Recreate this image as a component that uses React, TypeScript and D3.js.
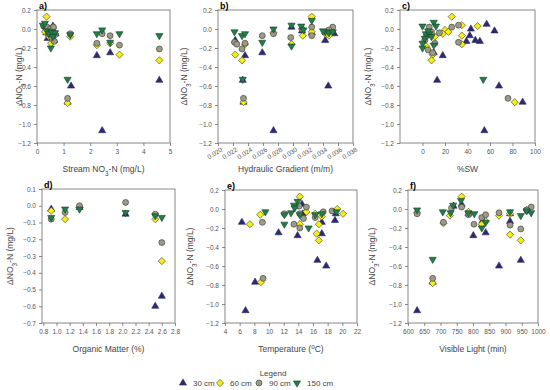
import * as d3 from "d3"
import { useRef, useEffect } from "react"

// depth series labels
const depths = ["30 cm", "60 cm", "90 cm", "150 cm"]

// a) stream NO3-N (mg/L)
const nitrate30 = [[0.35,-0.04],[0.45,-0.02],[0.5,0.0],[0.55,-0.08],[0.6,0.03],[0.65,-0.12],[0.4,-0.1],[0.7,-0.05],[1.15,-0.77],[1.28,-0.6],[2.25,-0.28],[2.45,-1.07],[2.75,-0.25],[4.6,-0.54]]
const nitrate60 = [[0.36,0.13],[0.3,-0.03],[0.53,-0.15],[0.68,-0.05],[0.45,-0.08],[1.25,-0.08],[1.15,-0.78],[2.25,-0.17],[2.75,-0.15],[3.1,-0.27],[4.6,-0.33],[0.6,-0.12]]
const nitrate90 = [[0.25,0.03],[0.38,0.02],[0.5,0.0],[0.62,0.02],[0.68,-0.06],[0.55,-0.09],[0.65,-0.13],[0.42,-0.05],[1.25,-0.05],[1.15,-0.73],[2.25,-0.15],[2.45,-0.05],[2.75,-0.07],[3.1,-0.17],[4.6,-0.21]]
const nitrate150 = [[0.22,0.04],[0.3,0.06],[0.37,-0.02],[0.45,-0.05],[0.55,-0.03],[0.68,-0.04],[0.6,-0.08],[0.52,-0.2],[1.25,-0.06],[1.15,-0.53],[2.25,-0.05],[2.45,-0.01],[2.75,-0.14],[3.1,-0.05],[4.6,-0.07]]

// b) hydraulic gradient (m/m)
const gradient30 = [[0.0233,-0.54],[0.0234,-0.77],[0.0236,-0.28],[0.0259,-0.25],[0.0274,-1.07],[0.0343,-0.12],[0.0347,-0.6],[0.0298,0.02],[0.0312,-0.02],[0.0325,-0.04],[0.035,-0.02],[0.0355,-0.05],[0.0223,-0.12]]
const gradient60 = [[0.0223,-0.27],[0.0232,-0.33],[0.0234,-0.77],[0.0236,-0.16],[0.0274,-0.04],[0.0298,-0.16],[0.0313,-0.07],[0.0325,0.13],[0.0325,-0.03],[0.0348,-0.07],[0.0343,-0.05],[0.0352,-0.03],[0.0312,0.0]]
const gradient90 = [[0.0222,-0.14],[0.0225,-0.16],[0.0232,-0.21],[0.0236,-0.15],[0.0234,-0.73],[0.0259,-0.07],[0.0274,-0.05],[0.0297,-0.09],[0.0312,0.0],[0.0325,0.02],[0.0325,-0.07],[0.0353,0.02],[0.0348,-0.01]]
const gradient150 = [[0.0222,-0.03],[0.0232,-0.07],[0.0236,-0.05],[0.0233,-0.53],[0.0259,-0.14],[0.0274,0.0],[0.0298,0.04],[0.0298,-0.18],[0.0311,0.03],[0.0314,-0.01],[0.0325,0.09],[0.0343,-0.03],[0.0348,-0.04],[0.0353,-0.03],[0.034,-0.02]]

// c) %SW
const sw30 = [[13,-0.54],[18,-0.28],[10,-0.25],[43,0.0],[42,-0.07],[39,-0.13],[47,-0.12],[51,-0.13],[57,0.05],[64,-0.02],[68,-0.6],[89,-0.77],[55,-1.07]]
const sw60 = [[26,0.13],[35,0.04],[49,0.03],[35,-0.07],[35,-0.16],[20,-0.01],[18,-0.05],[23,-0.03],[11,-0.08],[9,-0.27],[8,-0.33],[3,-0.18],[82,-0.77]]
const sw90 = [[6,0.02],[32,0.04],[32,-0.14],[26,0.02],[15,-0.04],[11,-0.15],[5,-0.22],[3,-0.08],[76,-0.73],[9,-0.25],[8,-0.03],[2,-0.12]]
const sw150 = [[0,0.03],[10,0.07],[12,0.03],[3,-0.05],[0,-0.15],[0,-0.2],[6,-0.05],[8,-0.08],[10,-0.17],[54,-0.53],[5,-0.02],[2,-0.1]]

// d) organic matter (%)
const organic30 = [[0.92,-0.02],[1.35,-0.01],[2.05,-0.05],[2.5,-0.6],[2.6,-0.54]]
const organic60 = [[0.92,-0.03],[1.13,-0.08],[1.35,-0.01],[2.5,-0.08],[2.6,-0.33]]
const organic90 = [[0.92,-0.08],[1.13,-0.04],[1.35,0.0],[2.05,0.02],[2.5,-0.05],[2.6,-0.22]]
const organic150 = [[0.92,-0.07],[1.13,-0.02],[1.35,-0.02],[2.05,-0.04],[2.5,-0.06],[2.6,-0.07]]

// e) temperature (oC)
const temp30 = [[6.3,-0.14],[6.8,-1.07],[8.1,-0.77],[11.3,-0.25],[13.9,-0.28],[16.6,-0.54],[17.8,-0.6],[17.2,-0.14],[17.2,-0.26],[19,-0.12],[19.1,-0.05],[14.5,0.05],[14.6,-0.05]]
const temp60 = [[7.4,-0.16],[8.8,-0.06],[8.9,-0.77],[14.2,0.13],[14.2,-0.16],[15.1,-0.03],[16.3,-0.05],[16.5,-0.26],[16.8,-0.33],[16.8,-0.16],[17.2,-0.08],[19.3,0.0],[20.1,-0.05]]
const temp90 = [[9.1,-0.14],[9.2,-0.73],[12.1,-0.05],[13.4,-0.16],[14.1,0.03],[14.2,-0.2],[15.1,0.02],[16.3,-0.09],[17.4,-0.03],[18.6,-0.02],[14.2,-0.05],[14.7,-0.1]]
const temp150 = [[9.5,-0.03],[12.1,-0.16],[12.1,-0.06],[13,-0.04],[13.4,0.04],[13.9,0.08],[14.2,-0.06],[15.4,-0.2],[16.3,-0.06],[17.2,-0.05],[19.2,-0.03],[13.5,0.01]]

// f) visible light (min)
const light30 = [[628,-1.07],[801,-0.28],[839,-0.25],[880,-0.6],[914,-0.13],[947,-0.54],[676,-0.77],[765,0.05],[740,0.03],[914,-0.05],[970,-0.02],[786,-0.05],[830,-0.12]]
const light60 = [[676,-0.78],[765,0.13],[729,-0.07],[786,-0.03],[827,-0.16],[839,-0.13],[880,-0.07],[914,-0.27],[947,-0.33],[709,-0.15],[914,-0.05],[628,-0.04],[965,-0.01]]
const light90 = [[628,-0.05],[676,-0.73],[709,-0.14],[734,0.01],[765,0.02],[786,-0.06],[803,-0.16],[827,-0.09],[839,-0.06],[880,-0.04],[914,-0.17],[947,-0.21],[979,0.02],[965,-0.01]]
const light150 = [[628,-0.01],[676,-0.53],[707,-0.03],[731,-0.04],[739,0.04],[763,0.09],[786,-0.04],[804,-0.05],[827,-0.2],[839,-0.14],[914,-0.03],[947,-0.07],[979,-0.04],[965,-0.02]]

// tick values
const yTicksTop = [0.2,0.0,-0.2,-0.4,-0.6,-0.8,-1.0,-1.2]
const yTicksOrganic = [0.1,0.0,-0.1,-0.2,-0.3,-0.4,-0.5,-0.6,-0.7]
const xTicksNitrate = [0,1,2,3,4,5]
const xTicksGradient = [0.020,0.022,0.024,0.026,0.028,0.030,0.032,0.034,0.036,0.038]
const xTicksSw = [0,20,40,60,80,100]
const xTicksOrganic = [0.8,1.0,1.2,1.4,1.6,1.8,2.0,2.2,2.4,2.6,2.8]
const xTicksTemp = [4,6,8,10,12,14,16,18,20,22]
const xTicksLight = [600,650,700,750,800,850,900,950,1000]

const colors = ["#2c2a6c", "#f4ee12", "#9b9a8b", "#1f7f48"]
const strokes = ["#2c2a6c", "#3a3a2a", "#3a3a2a", "#1c3a28"]
const font = "'Liberation Sans', Arial, sans-serif"

const diamond = {
  draw(ctx, size) {
    const r = Math.sqrt(size / 2)
    ctx.moveTo(0, -r); ctx.lineTo(r, 0); ctx.lineTo(0, r); ctx.lineTo(-r, 0); ctx.closePath()
  }
}
const symbolPath = [
  d3.symbol().type(d3.symbolTriangle).size(22)(),
  d3.symbol().type(diamond).size(26)(),
  d3.symbol().type(d3.symbolCircle).size(28)(),
  d3.symbol().type(d3.symbolTriangle).size(22)(),
]

const yTitle = [["ΔNO", ""], ["3", "sub"], ["-N (mg/L)", ""]]

export default function App() {
  const ref = useRef()

  useEffect(() => {
    const svg = d3.select(ref.current)
    svg.selectAll("*").remove()

    const panels = [
      { label: "a)", x0: 37, x1: 170, y0: 10, y1: 143, xDom: [0, 5], yDom: [-1.2, 0.2], xTicks: xTicksNitrate, yTicks: yTicksTop,
        xFmt: d3.format("d"), yFmt: d3.format(".1f"), series: [nitrate30, nitrate60, nitrate90, nitrate150],
        xTitle: [["Stream NO", ""], ["3", "sub"], ["-N (mg/L)", ""]], titleY: 172, yTitleX: 22 },
      { label: "b)", x0: 218, x1: 353, y0: 10, y1: 143, xDom: [0.020, 0.038], yDom: [-1.2, 0.2], xTicks: xTicksGradient, yTicks: yTicksTop,
        xFmt: d3.format(".3f"), yFmt: d3.format(".1f"), series: [gradient30, gradient60, gradient90, gradient150], rotate: true,
        xTitle: [["Hydraulic Gradient (m/m)", ""]], titleY: 172, yTitleX: 187 },
      { label: "c)", x0: 400, x1: 535, y0: 10, y1: 143, xDom: [-20, 100], yDom: [-1.2, 0.2], xTicks: xTicksSw, yTicks: yTicksTop,
        xFmt: d3.format("d"), yFmt: d3.format(".1f"), series: [sw30, sw60, sw90, sw150],
        xTitle: [["%SW", ""]], titleY: 172, yTitleX: 371 },
      { label: "d)", x0: 42, x1: 175, y0: 189, y1: 323, xDom: [0.78, 2.8], yDom: [-0.7, 0.1], xTicks: xTicksOrganic, yTicks: yTicksOrganic,
        xFmt: d3.format(".1f"), yFmt: d3.format(".1f"), series: [organic30, organic60, organic90, organic150],
        xTitle: [["Organic Matter (%)", ""]], titleY: 352, yTitleX: 13 },
      { label: "e)", x0: 225, x1: 357, y0: 190, y1: 323, xDom: [4, 22], yDom: [-1.2, 0.2], xTicks: xTicksTemp, yTicks: yTicksTop,
        xFmt: d3.format("d"), yFmt: d3.format(".1f"), series: [temp30, temp60, temp90, temp150],
        xTitle: [["Temperature (", ""], ["o", "sup"], ["C)", ""]], titleY: 352, yTitleX: 193 },
      { label: "f)", x0: 408, x1: 538, y0: 190, y1: 323, xDom: [600, 1000], yDom: [-1.2, 0.2], xTicks: xTicksLight, yTicks: yTicksTop,
        xFmt: d3.format("d"), yFmt: d3.format(".1f"), series: [light30, light60, light90, light150],
        xTitle: [["Visible Light (min)", ""]], titleY: 352, yTitleX: 375 },
    ]

    const addParts = (text, parts) => {
      parts.forEach(([t, kind]) => {
        const ts = text.append("tspan").text(t)
        if (kind === "sub") ts.attr("baseline-shift", "sub").attr("font-size", "0.75em")
        if (kind === "sup") ts.attr("baseline-shift", "super").attr("font-size", "0.75em")
      })
    }

    panels.forEach(p => {
      const x = d3.scaleLinear().domain(p.xDom).range([p.x0, p.x1])
      const y = d3.scaleLinear().domain(p.yDom).range([p.y1, p.y0])
      const g = svg.append("g")

      g.append("rect")
        .attr("x", p.x0).attr("y", p.y0)
        .attr("width", p.x1 - p.x0).attr("height", p.y1 - p.y0)
        .attr("fill", "none").attr("stroke", "#6a6a6a").attr("stroke-width", 0.8)

      const xa = g.append("g")
        .attr("transform", `translate(0,${p.y1})`)
        .call(d3.axisBottom(x).tickValues(p.xTicks).tickFormat(p.xFmt).tickSize(3).tickPadding(3))
      const ya = g.append("g")
        .attr("transform", `translate(${p.x0},0)`)
        .call(d3.axisLeft(y).tickValues(p.yTicks).tickFormat(p.yFmt).tickSize(3).tickPadding(3))
      ;[xa, ya].forEach(a => {
        a.select(".domain").remove()
        a.selectAll("line").attr("stroke", "#6a6a6a").attr("stroke-width", 0.8)
        a.selectAll("text").attr("fill", "#555").attr("font-size", 6.5).attr("font-family", font)
      })
      if (p.rotate) {
        xa.selectAll("text")
          .attr("text-anchor", "end")
          .attr("x", 0).attr("y", 0).attr("dy", "0.7em")
          .attr("transform", "translate(2,4) rotate(-32)")
      }

      g.append("text")
        .attr("x", p.x0 + 2).attr("y", p.y0 - 1)
        .attr("font-family", font).attr("font-size", 9).attr("font-weight", "bold")
        .text(p.label)

      const xt = g.append("text")
        .attr("x", (p.x0 + p.x1) / 2).attr("y", p.titleY)
        .attr("text-anchor", "middle").attr("font-family", font).attr("font-size", 8.5).attr("fill", "#444")
      addParts(xt, p.xTitle)

      const yt = g.append("text")
        .attr("transform", `translate(${p.yTitleX},${(p.y0 + p.y1) / 2}) rotate(-90)`)
        .attr("text-anchor", "middle").attr("font-family", font).attr("font-size", 8.5).attr("fill", "#444")
      addParts(yt, yTitle)

      p.series.forEach((data, i) => {
        g.append("g")
          .selectAll("path")
          .data(data)
          .join("path")
          .attr("d", symbolPath[i])
          .attr("transform", d => `translate(${x(d[0])},${y(d[1])})${i === 3 ? " rotate(180)" : ""}`)
          .attr("fill", colors[i])
          .attr("stroke", strokes[i])
          .attr("stroke-width", 0.6)
      })
    })

    // legend
    svg.append("text")
      .attr("x", 273).attr("y", 376)
      .attr("text-anchor", "middle").attr("font-family", font).attr("font-size", 8).attr("fill", "#444")
      .text("Legend")
    const legendX = [183, 220, 259, 297]
    depths.forEach((d, i) => {
      svg.append("path")
        .attr("d", symbolPath[i])
        .attr("transform", `translate(${legendX[i]},383)${i === 3 ? " rotate(180)" : ""}`)
        .attr("fill", colors[i]).attr("stroke", strokes[i]).attr("stroke-width", 0.6)
      svg.append("text")
        .attr("x", legendX[i] + 10).attr("y", 386)
        .attr("font-family", font).attr("font-size", 8).attr("fill", "#444")
        .text(d)
    })
  }, [])

  return (
    <svg ref={ref} width={550} height={390}
      style={{ position: "absolute", left: 0, top: 0, background: "#fff" }} />
  )
}
